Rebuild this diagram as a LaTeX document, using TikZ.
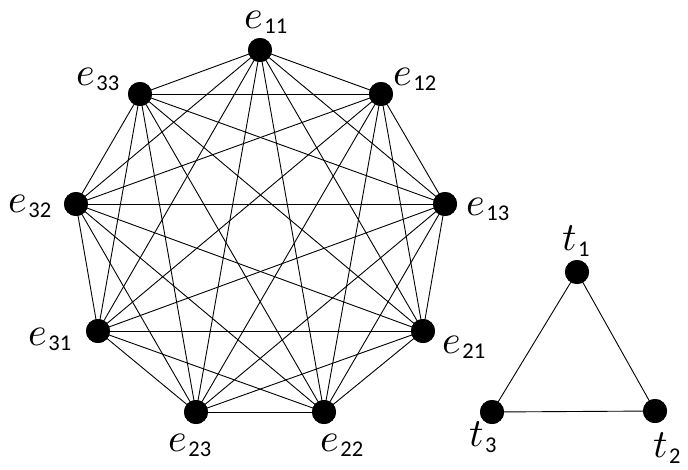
\documentclass[tikz,border=0pt]{standalone}
\usepackage{unicode-math}
\setmathfont{Latin Modern Math}
\newfontfamily\subfont{Carlito}
\newcommand{\lab}[2]{$#1$\kern1pt\raisebox{-5.5pt}{\fontsize{22.5}{22.5}\selectfont\subfont #2}}
\begin{document}
\begin{tikzpicture}[x=1pt,y=-1pt,
  vtx/.style={circle,fill=black,inner sep=0pt,minimum size=24pt},
  lbl/.style={inner sep=0pt,font=\fontsize{40}{44}\selectfont},
  edge/.style={line width=0.9pt}]
\useasboundingbox (0,0) rectangle (688,469);
% vertices
\node[vtx] (e11) at (260,50) {};
\node[vtx] (e12) at (381,94) {};
\node[vtx] (e13) at (445,204) {};
\node[vtx] (e21) at (423,331) {};
\node[vtx] (e22) at (324,412) {};
\node[vtx] (e23) at (196,412) {};
\node[vtx] (e31) at (98,331) {};
\node[vtx] (e32) at (76,204) {};
\node[vtx] (e33) at (140,94) {};
\node[vtx] (t1) at (577,272) {};
\node[vtx] (t2) at (655,411) {};
\node[vtx] (t3) at (492,412) {};
% edges of complete graph
\foreach \a/\b in {e11/e12,e11/e13,e11/e21,e11/e22,e11/e23,e11/e31,e11/e32,e11/e33,
  e12/e13,e12/e21,e12/e22,e12/e23,e12/e31,e12/e32,e12/e33,
  e13/e21,e13/e22,e13/e23,e13/e31,e13/e32,e13/e33,
  e21/e22,e21/e23,e21/e31,e21/e32,e21/e33,
  e22/e23,e22/e31,e22/e32,e22/e33,
  e23/e31,e23/e32,e23/e33,
  e31/e32,e31/e33,
  e32/e33,
  t1/t2,t2/t3,t3/t1}
  \draw[edge] (\a.center) -- (\b.center);
% redraw vertices on top
\foreach \v in {e11,e12,e13,e21,e22,e23,e31,e32,e33,t1,t2,t3}
  \fill (\v.center) circle (12pt);
% labels
\node[lbl] (l11) at (266,22) {\lab{e}{11}};
\node[lbl] (l12) at (415,79) {\lab{e}{12}};
\node[lbl] (l13) at (488,209) {\lab{e}{13}};
\node[lbl] (l21) at (464,347) {\lab{e}{21}};
\node[lbl] (l22) at (342,445) {\lab{e}{22}};
\node[lbl] (l23) at (190,445) {\lab{e}{23}};
\node[lbl] (l31) at (50,339) {\lab{e}{31}};
\node[lbl] (l32) at (30,206) {\lab{e}{32}};
\node[lbl] (l33) at (98,79) {\lab{e}{33}};
\node[lbl] (lt1) at (576,241) {\lab{t}{1}};
\node[lbl] (lt2) at (667,448) {\lab{t}{2}};
\node[lbl] (lt3) at (483,437) {\lab{t}{3}};
\end{tikzpicture}
\end{document}
